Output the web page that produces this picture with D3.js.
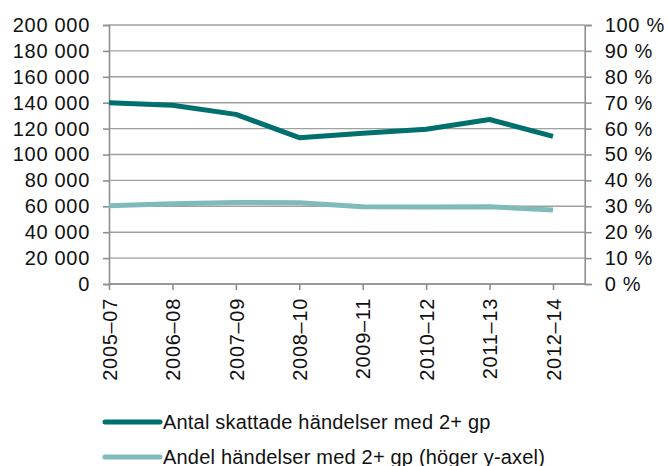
<!DOCTYPE html>
<html>
<head>
<meta charset="utf-8">
<script src="https://cdn.jsdelivr.net/npm/d3@7"></script>
<style>
  body { margin: 0; background: #fff; }
  text { font-family: 'Liberation Sans', Arial, sans-serif; fill: #111; }
</style>
</head>
<body>
<svg id="svg1" width="668" height="466"></svg>
<script>
// data
periods = ['2005–07', '2006–08', '2007–09', '2008–10', '2009–11', '2010–12', '2011–13', '2012–14'];
antal = [140000, 138000, 131000, 113000, 116500, 119500, 127000, 114000];
andel = [0.302, 0.310, 0.315, 0.314, 0.298, 0.297, 0.298, 0.286];
leftTicks = [0, 20000, 40000, 60000, 80000, 100000, 120000, 140000, 160000, 180000, 200000];
rightTicks = [0, 0.1, 0.2, 0.3, 0.4, 0.5, 0.6, 0.7, 0.8, 0.9, 1];
legendLabels = ['Antal skattade händelser med 2+ gp', 'Andel händelser med 2+ gp (höger y-axel)'];
colors = ['#00706f', '#80bbbc'];

margin = { top: 25, left: 109, bottom: 182 };
svg = d3.select('#svg1');
height = +svg.attr('height');
innerHeight = height - margin.top - margin.bottom;

var xScale = d3.scalePoint().domain(periods).range([0, 444]);
plotWidth = xScale(periods[periods.length - 1]) + xScale.step() / 2;
var yLeft = d3.scaleLinear().domain([0, 200000]).range([innerHeight, 0]);
var yRight = d3.scaleLinear().domain([0, 1]).range([innerHeight, 0]);

fmtNum = d => d3.format(',')(d).replace(/,/g, ' ');
fmtPct = d => Math.round(d * 100) + ' %';

g = svg.append('g').attr('transform', `translate(${margin.left},${margin.top})`);

// gridlines
g.selectAll('line.grid')
  .data(leftTicks)
  .enter()
  .append('line')
  .attr('x1', 0).attr('x2', plotWidth)
  .attr('y1', d => yLeft(d)).attr('y2', d => yLeft(d))
  .style('stroke', '#a0a0a0')
  .style('stroke-width', 1.4);

// axes
var leftAxis = g.append('g')
  .call(d3.axisLeft(yLeft).tickValues(leftTicks).tickFormat(fmtNum).tickSize(6).tickPadding(13));
var rightAxis = g.append('g')
  .attr('transform', `translate(${plotWidth},0)`)
  .call(d3.axisRight(yRight).tickValues(rightTicks).tickFormat(fmtPct).tickSize(7).tickPadding(13));
var bottomAxis = g.append('g')
  .attr('transform', `translate(0,${innerHeight})`)
  .call(d3.axisBottom(xScale).tickSize(6).tickPadding(8));
bottomAxis.select('.domain').attr('d', `M0,0H${plotWidth}`);

[leftAxis, rightAxis, bottomAxis].forEach(function(a) {
  a.selectAll('.domain').style('stroke', '#8f8f8f').style('stroke-width', 1.6);
  a.selectAll('.tick line').style('stroke', '#8f8f8f').style('stroke-width', 1.6);
  a.selectAll('text').style('font-size', '20px').style('fill', '#111')
    .style('letter-spacing', '0.7px')
    .style('font-family', "'Liberation Sans', Arial, sans-serif");
});
bottomAxis.selectAll('.tick text')
  .attr('transform', 'rotate(-90)')
  .attr('text-anchor', 'end')
  .attr('x', -14)
  .attr('y', 0)
  .attr('dy', '0.36em');

// lines
var lineLeft = d3.line().x((d, i) => xScale(periods[i])).y(d => yLeft(d));
var lineRight = d3.line().x((d, i) => xScale(periods[i])).y(d => yRight(d));
g.append('path')
  .datum(andel)
  .style('fill', 'none')
  .style('stroke', colors[1])
  .style('stroke-width', 5)
  .style('stroke-linejoin', 'round')
  .attr('d', lineRight);
g.append('path')
  .datum(antal)
  .style('fill', 'none')
  .style('stroke', colors[0])
  .style('stroke-width', 5)
  .style('stroke-linejoin', 'round')
  .attr('d', lineLeft);

// legend
var legend = svg.append('g').attr('transform', 'translate(105,422)');
legendLabels.forEach(function(lbl, i) {
  legend.append('line')
    .attr('x1', 0).attr('x2', 55)
    .attr('y1', i * 35).attr('y2', i * 35)
    .style('stroke', colors[i])
    .style('stroke-width', 5)
    .style('stroke-linecap', 'round');
  legend.append('text')
    .attr('x', 58)
    .attr('y', i * 35)
    .attr('dy', '0.35em')
    .style('font-size', '20px')
    .style('letter-spacing', '0.2px')
    .text(lbl);
});
</script>
</body>
</html>
